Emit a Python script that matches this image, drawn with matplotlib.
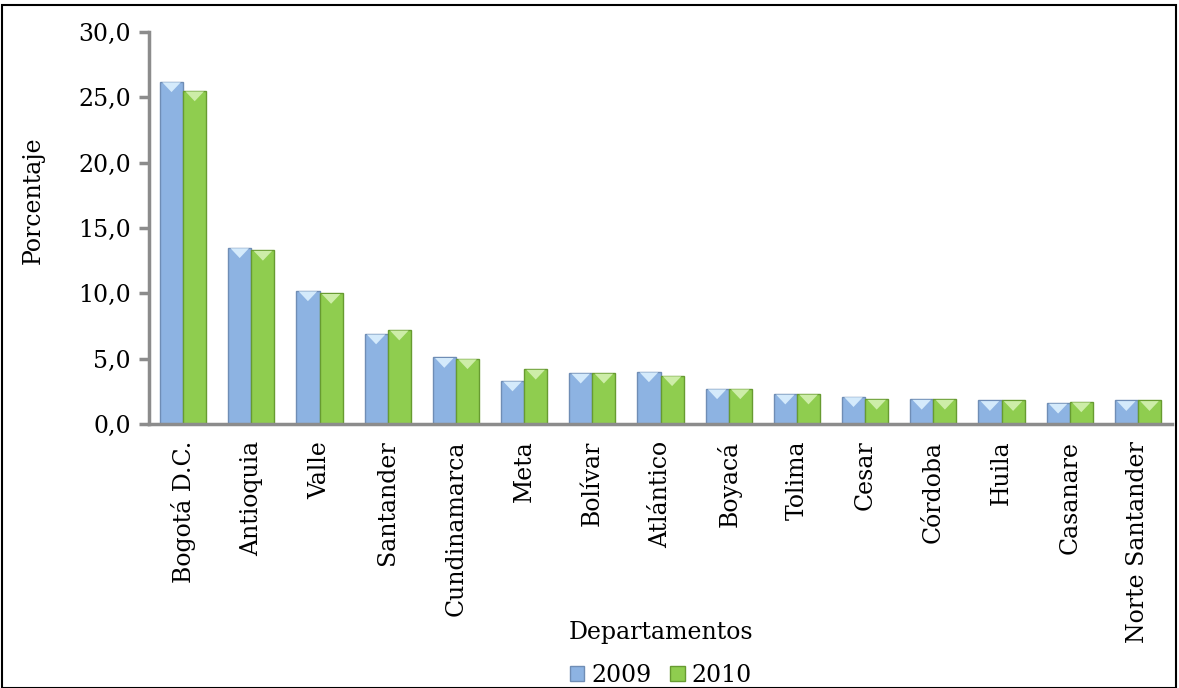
import matplotlib
matplotlib.use("Agg")
import matplotlib.pyplot as plt
from matplotlib.patches import Polygon, Rectangle
import numpy as np

categories = ["Bogotá D.C.", "Antioquia", "Valle", "Santander", "Cundinamarca",
              "Meta", "Bolívar", "Atlántico", "Boyacá", "Tolima", "Cesar",
              "Córdoba", "Huila", "Casanare", "Norte Santander"]
v2009 = [26.2, 13.5, 10.2, 6.9, 5.1, 3.3, 3.9, 4.0, 2.7, 2.3, 2.1, 1.9, 1.8, 1.6, 1.8]
v2010 = [25.5, 13.3, 10.0, 7.2, 5.0, 4.2, 3.9, 3.7, 2.7, 2.3, 1.9, 1.9, 1.8, 1.7, 1.8]
yticks = [0, 5, 10, 15, 20, 25, 30]
ytick_labels = ["0,0", "5,0", "10,0", "15,0", "20,0", "25,0", "30,0"]
series_names = ["2009", "2010"]

plt.rcParams['font.family'] = ['DejaVu Serif']
FS = 17

fig = plt.figure(figsize=(11.79, 6.88), dpi=100)
ax = fig.add_axes([149/1179, 1-424/688, (1172-149)/1179, (424-32)/688])

x = np.arange(len(categories))
w = 0.34
styles = [
    dict(face="#8DB3E2", edge="#6F8DB5", light="#D4EAFB"),
    dict(face="#8FCD4F", edge="#679B31", light="#CDEDA8"),
]
handles = []
for i, (vals, st) in enumerate(zip([v2009, v2010], styles)):
    offs = (i - 0.5) * w
    bars = ax.bar(x + offs, vals, width=w, color=st["face"], edgecolor=st["edge"],
                  linewidth=1.0, zorder=2, label=series_names[i])
    handles.append(bars)
    for b in bars:
        x0 = b.get_x()
        bw = b.get_width()
        top = b.get_height()
        th = 0.8  # bevel depth in data units
        tri = Polygon([[x0 + 0.1 * bw, top - 0.05], [x0 + 0.9 * bw, top - 0.05],
                       [x0 + 0.5 * bw, top - th]], closed=True,
                      facecolor=st["light"], edgecolor="none", zorder=3)
        ax.add_patch(tri)

ax.set_xlim(-0.5, len(categories) - 0.5)
ax.set_ylim(0, 30)
ax.set_yticks(yticks)
ax.set_yticklabels(ytick_labels, fontsize=FS)
ax.set_xticks(x)
ax.set_xticklabels(categories, rotation=90, fontsize=FS)
ax.tick_params(axis='x', length=0, pad=12)
ax.tick_params(axis='y', direction='out', length=7, width=2.5, color="#8C8C8C", pad=6)
for s in ["top", "right"]:
    ax.spines[s].set_visible(False)
for s in ["left", "bottom"]:
    ax.spines[s].set_color("#8C8C8C")
    ax.spines[s].set_linewidth(2.5)

ax.set_ylabel("Porcentaje", fontsize=FS)
ax.yaxis.set_label_coords((45 - 149) / (1172 - 149), 0.57)
fig.text(661 / 1179, 1 - 632 / 688, "Departamentos",
         ha="center", va="center", fontsize=FS)

leg = fig.legend(handles=handles, labels=series_names, loc="center",
                 bbox_to_anchor=(661 / 1179, 1 - 675 / 688), ncol=2, frameon=False,
                 handlelength=0.6, handleheight=0.6, handletextpad=0.3,
                 columnspacing=0.8, prop={'family': 'DejaVu Serif', 'size': FS})

fig.patches.append(Rectangle((2 / 1179, 0), 1 - 5 / 1179, 1 - 5 / 688,
                             transform=fig.transFigure, fill=False,
                             edgecolor="black", linewidth=1.5))

fig.savefig("out.png", dpi=100)
